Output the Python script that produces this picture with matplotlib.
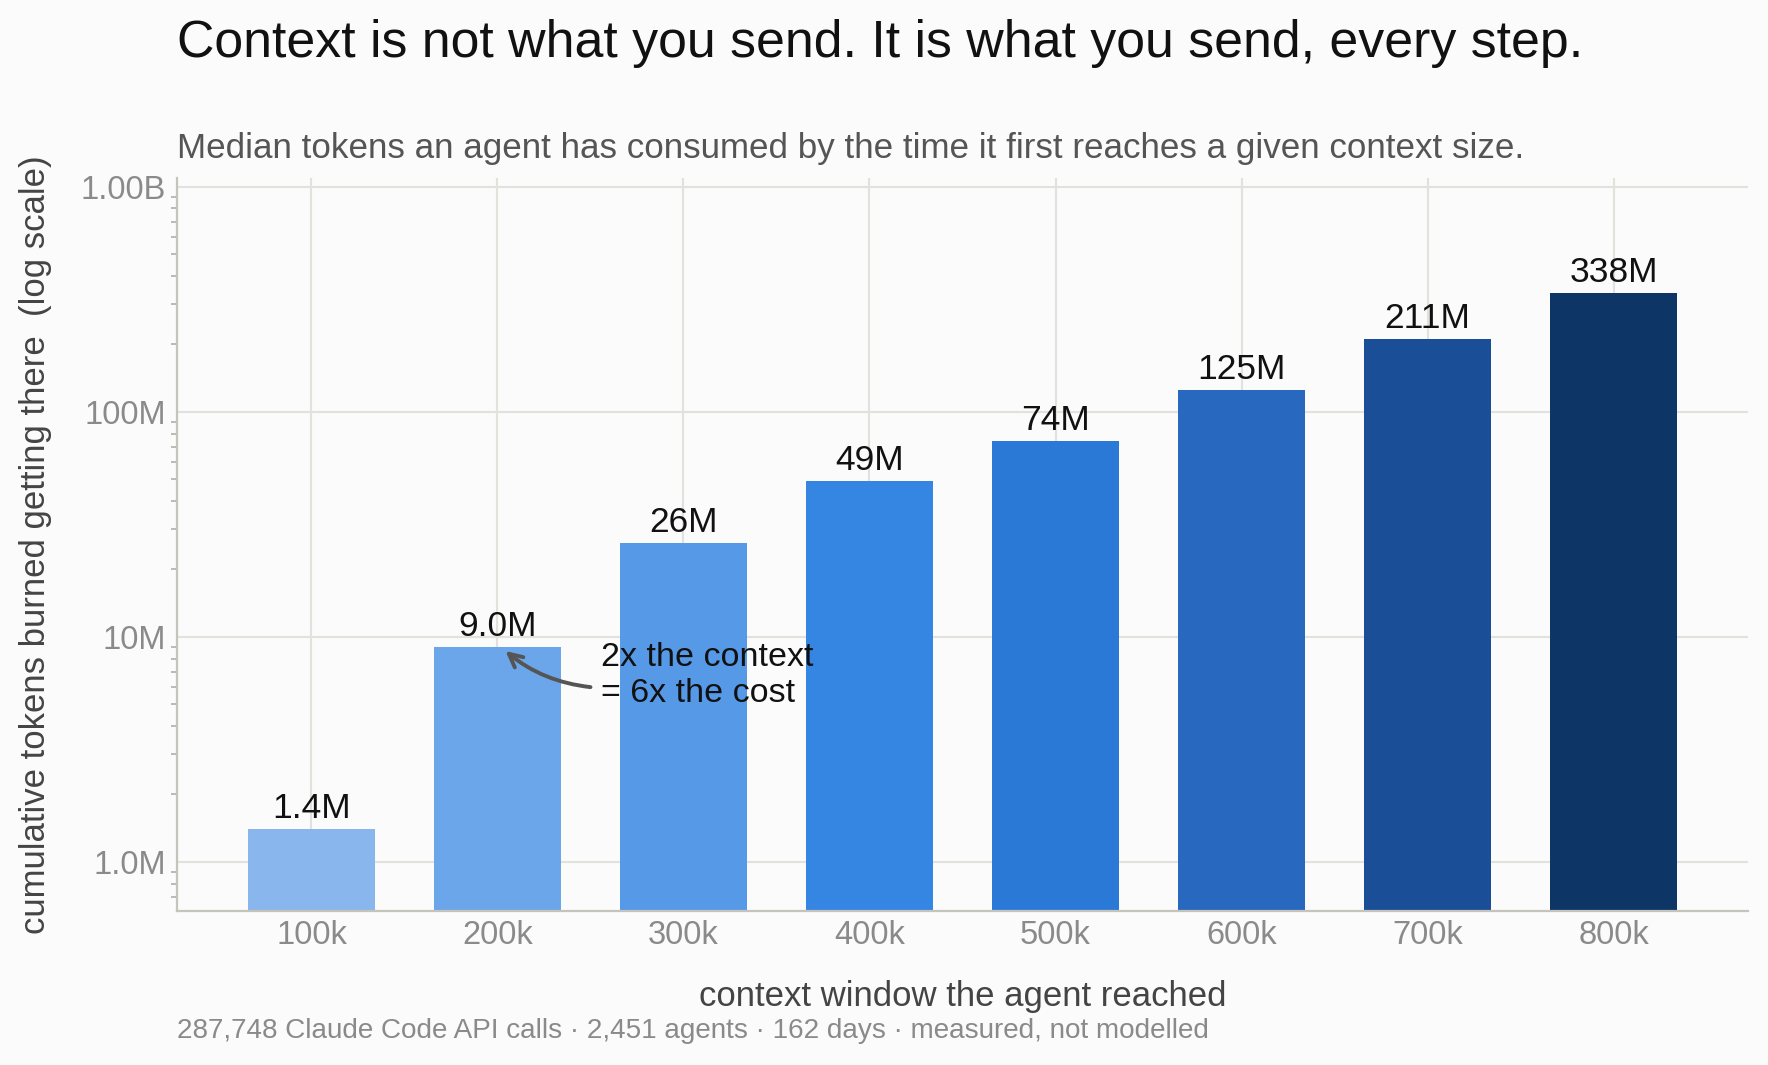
import numpy as np
import matplotlib
matplotlib.use('Agg')
import matplotlib.pyplot as plt
from matplotlib.ticker import FixedLocator, FixedFormatter, LogLocator, NullFormatter

plt.rcParams['font.family'] = ['Liberation Sans', 'DejaVu Sans']

# data
contexts = ['100k', '200k', '300k', '400k', '500k', '600k', '700k', '800k']
tokens = [1.4e6, 9.0e6, 26e6, 49e6, 74e6, 125e6, 211e6, 338e6]
bar_labels = ['1.4M', '9.0M', '26M', '49M', '74M', '125M', '211M', '338M']
colors = ['#89B6EC', '#6BA6EA', '#5699E6', '#3585E2',
          '#2A79D6', '#2868BE', '#1A4E96', '#0D3566']
ytick_vals = [1e6, 1e7, 1e8, 1e9]
ytick_labels = ['1.0M', '10M', '100M', '1.00B']

bg = '#FBFBFB'
W, H = 1768, 1065

fig = plt.figure(figsize=(W / 100, H / 100), dpi=100, facecolor=bg)
ax = fig.add_axes([177 / W, 1 - 911 / H, (1748 - 177) / W, (911 - 178) / H])
ax.set_facecolor(bg)

x = np.arange(len(contexts))
ax.bar(x, tokens, width=0.683, color=colors, zorder=2)

ax.set_yscale('log')
ax.set_ylim(6.04e5, 1.093e9)
ax.set_xlim(-0.723, len(contexts) - 1 + 0.723)

ax.yaxis.set_major_locator(FixedLocator(ytick_vals))
ax.yaxis.set_major_formatter(FixedFormatter(ytick_labels))
ax.yaxis.set_minor_locator(LogLocator(base=10, subs=np.arange(2, 10)))
ax.yaxis.set_minor_formatter(NullFormatter())
ax.set_xticks(x)
ax.set_xticklabels(contexts)

ax.tick_params(axis='y', which='major', length=0, pad=8, labelsize=23.5, labelcolor='#8A8A8A')
ax.tick_params(axis='y', which='minor', length=4.5, width=1.2, color='#B0B0A8')
ax.tick_params(axis='x', length=0, pad=6.5, labelsize=23.5, labelcolor='#8A8A8A')

ax.grid(True, which='major', color='#E2E2DC', linewidth=1.5, zorder=0)
ax.set_axisbelow(True)
for s in ['top', 'right']:
    ax.spines[s].set_visible(False)
for s in ['left', 'bottom']:
    ax.spines[s].set_color('#C4C4BC')
    ax.spines[s].set_linewidth(1.6)

for xi, v, lab in zip(x, tokens, bar_labels):
    ax.annotate(lab, (xi, v), xytext=(0, 3), textcoords='offset points',
                ha='center', va='bottom', fontsize=25.5, color='#111111')

# callout on the 200k bar
ax.annotate('', xy=(1.043, 8.64e6), xytext=(1.5, 5.97e6),
            arrowprops=dict(arrowstyle='->', color='#555555', lw=2.8,
                            connectionstyle='arc3,rad=-0.15',
                            mutation_scale=24, shrinkA=0, shrinkB=0))
ax.text(1.554, 9.45e6, '2x the context\n= 6x the cost', ha='left', va='top',
        fontsize=24.5, color='#111111', linespacing=1.2)

ax.set_xlabel('context window the agent reached', fontsize=25, color='#444444')
ax.xaxis.set_label_coords(0.5, (911 - 980) / 733)
ax.set_ylabel('cumulative tokens burned getting there  (log scale)', fontsize=25,
              color='#444444')
ax.yaxis.set_label_coords((52 - 177) / 1571, 0.5)

fig.text(177 / W, 1 - 57 / H, 'Context is not what you send. It is what you send, every step.',
         fontsize=37.4, color='#111111', va='baseline', ha='left')
fig.text(177 / W, 1 - 158 / H,
         'Median tokens an agent has consumed by the time it first reaches a given context size.',
         fontsize=25.2, color='#555555', va='baseline', ha='left')
fig.text(177 / W, 1 - 1038 / H,
         '287,748 Claude Code API calls \u00b7 2,451 agents \u00b7 162 days \u00b7 measured, not modelled',
         fontsize=20.05, color='#8A8A8A', va='baseline', ha='left')

fig.savefig('out.png', dpi=100, facecolor=bg)
